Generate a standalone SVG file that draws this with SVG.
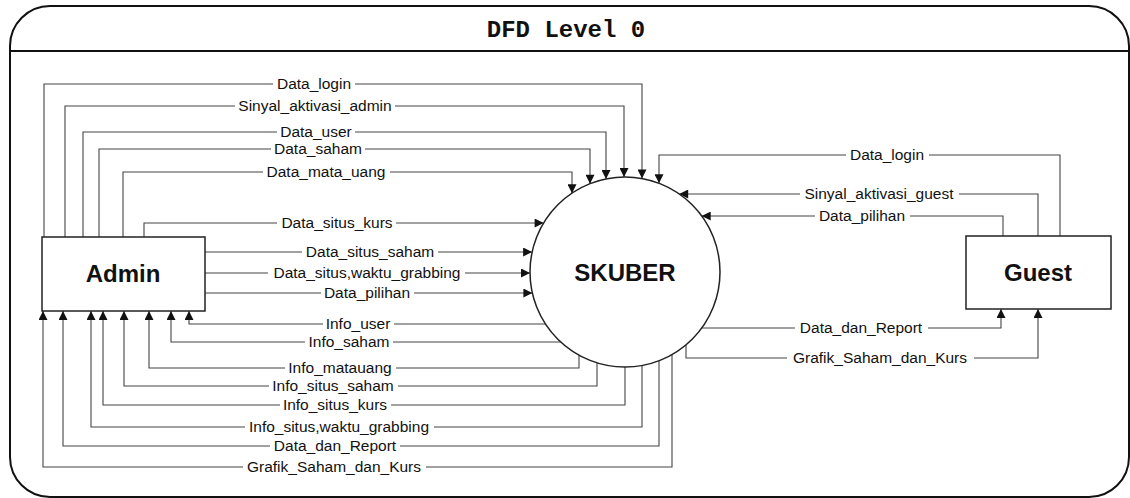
<svg xmlns="http://www.w3.org/2000/svg" width="1130" height="498" viewBox="0 0 1130 498">
<defs>
<marker id="arr" viewBox="0 0 10 10" refX="10" refY="5" markerWidth="10" markerHeight="9" markerUnits="userSpaceOnUse" orient="auto">
<path d="M0,0 L10,5 L0,10 z" fill="#111"/>
</marker>
<style>
.frame{fill:none;stroke:#111;stroke-width:2}
.box{fill:#fff;stroke:#222;stroke-width:1.5}
.flow{fill:none;stroke:#444;stroke-width:1.1}
.arr{marker-end:url(#arr)}
.bg{fill:#fff}
.lbl{font-family:"Liberation Sans",Arial,sans-serif;font-size:15.5px;fill:#111;text-anchor:middle}
.name{font-family:"Liberation Sans",Arial,sans-serif;font-size:24px;font-weight:bold;fill:#111;text-anchor:middle}
.title{font-family:"Liberation Mono","Courier New",monospace;font-size:24px;font-weight:bold;fill:#111;text-anchor:middle}
</style>
</defs>
<rect width="1130" height="498" fill="#fff"/>
<g id="frame">
<rect class="frame" x="10" y="6" width="1119" height="491" rx="40" ry="40"/>
<line class="frame" x1="10" y1="51" x2="1129" y2="51"/>
<text class="title" x="566" y="37">DFD Level 0</text>
</g>
<g id="connectors">
<path class="flow arr" d="M44,237 V84 H642 V178.5"/>
<path class="flow arr" d="M65,237 V106 H624 V177"/>
<path class="flow arr" d="M83,237 V132 H606 V179"/>
<path class="flow arr" d="M99,237 V149 H590 V183.7"/>
<path class="flow arr" d="M123,237 V172 H572 V193.2"/>
<path class="flow arr" d="M144,237 V223 H543.6"/>
<path class="flow arr" d="M205,252 H532.1"/>
<path class="flow arr" d="M205,273 H530"/>
<path class="flow arr" d="M205,293 H532.4"/>
<path class="flow arr" d="M545.5,324 H189 V311"/>
<path class="flow arr" d="M560.8,342 H171 V311"/>
<path class="flow arr" d="M579,355.1 V368 H149 V311"/>
<path class="flow arr" d="M597,362.8 V386 H124 V311"/>
<path class="flow arr" d="M625,367 V405 H103 V311"/>
<path class="flow arr" d="M642,365.5 V427 H91 V311"/>
<path class="flow arr" d="M659,360.7 V446 H63 V311"/>
<path class="flow arr" d="M672,354.6 V467 H43 V311"/>
<path class="flow arr" d="M1060,236 V155 H659 V183.3"/>
<path class="flow arr" d="M1038,236 V194 H679.2"/>
<path class="flow arr" d="M1003,236 V216 H701.7"/>
<path class="flow arr" d="M701.7,328 H1001 V309"/>
<path class="flow arr" d="M686,344.8 V358 H1038 V309"/>
<rect class="bg" x="273" y="78" width="82" height="12"/>
<rect class="bg" x="235" y="100" width="160" height="12"/>
<rect class="bg" x="277" y="126" width="78" height="12"/>
<rect class="bg" x="271" y="143" width="94" height="12"/>
<rect class="bg" x="263" y="166" width="127" height="12"/>
<rect class="bg" x="277" y="217" width="119" height="12"/>
<rect class="bg" x="302" y="246" width="136" height="12"/>
<rect class="bg" x="268" y="267" width="197" height="12"/>
<rect class="bg" x="321" y="287" width="93" height="12"/>
<rect class="bg" x="323" y="318" width="71" height="12"/>
<rect class="bg" x="305" y="336" width="88" height="12"/>
<rect class="bg" x="285" y="362" width="111" height="12"/>
<rect class="bg" x="269" y="380" width="129" height="12"/>
<rect class="bg" x="280" y="399" width="111" height="12"/>
<rect class="bg" x="245" y="421" width="189" height="12"/>
<rect class="bg" x="270" y="440" width="130" height="12"/>
<rect class="bg" x="243" y="461" width="183" height="12"/>
<rect class="bg" x="846" y="149" width="83" height="12"/>
<rect class="bg" x="800" y="188" width="159" height="12"/>
<rect class="bg" x="815" y="210" width="95" height="12"/>
<rect class="bg" x="795" y="322" width="133" height="12"/>
<rect class="bg" x="787" y="352" width="187" height="12"/>
<text class="lbl" x="314" y="89">Data_login</text>
<text class="lbl" x="315" y="111">Sinyal_aktivasi_admin</text>
<text class="lbl" x="316" y="137">Data_user</text>
<text class="lbl" x="318" y="154">Data_saham</text>
<text class="lbl" x="326" y="177">Data_mata_uang</text>
<text class="lbl" x="337" y="228">Data_situs_kurs</text>
<text class="lbl" x="370" y="257">Data_situs_saham</text>
<text class="lbl" x="367" y="278">Data_situs,waktu_grabbing</text>
<text class="lbl" x="367" y="298">Data_pilihan</text>
<text class="lbl" x="358" y="329">Info_user</text>
<text class="lbl" x="349" y="347">Info_saham</text>
<text class="lbl" x="340" y="373">Info_matauang</text>
<text class="lbl" x="333" y="391">Info_situs_saham</text>
<text class="lbl" x="335" y="410">Info_situs_kurs</text>
<text class="lbl" x="339" y="432">Info_situs,waktu_grabbing</text>
<text class="lbl" x="335" y="451">Data_dan_Report</text>
<text class="lbl" x="334" y="472">Grafik_Saham_dan_Kurs</text>
<text class="lbl" x="887" y="160">Data_login</text>
<text class="lbl" x="879" y="199">Sinyal_aktivasi_guest</text>
<text class="lbl" x="862" y="221">Data_pilihan</text>
<text class="lbl" x="861" y="333">Data_dan_Report</text>
<text class="lbl" x="880" y="363">Grafik_Saham_dan_Kurs</text>
</g>
<g id="admin">
<rect class="box" x="42" y="237" width="163" height="74"/>
<text class="name" x="123" y="282">Admin</text>
</g>
<g id="skuber">
<circle class="box" cx="625" cy="272" r="95"/>
<text class="name" x="625" y="281">SKUBER</text>
</g>
<g id="guest">
<rect class="box" x="966" y="236" width="145" height="73"/>
<text class="name" x="1038" y="281">Guest</text>
</g>
</svg>
